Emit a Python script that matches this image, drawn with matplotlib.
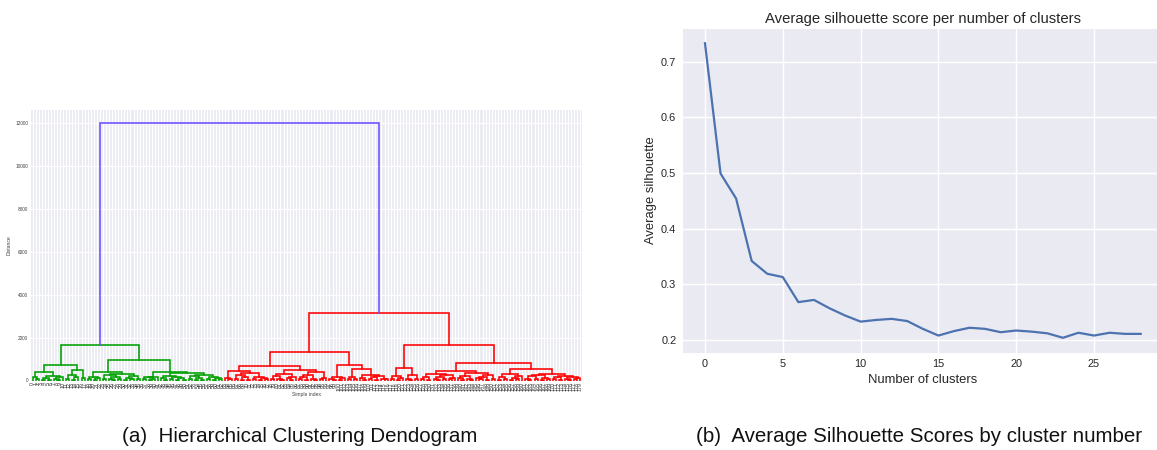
import matplotlib
matplotlib.use("Agg")
import matplotlib.pyplot as plt

plt.rcParams['font.family'] = ['Liberation Sans', 'DejaVu Sans']

# ---------------------------------------------------------------------------
# Dendrogram: merge height between each pair of neighbouring leaves
# (in leaf order). The tree is rebuilt from these by splitting at the maximum.
# ---------------------------------------------------------------------------
green_gaps = [
    150, 60, 390, 45, 120, 30, 210, 80, 25, 140, 700,
    90, 250, 40, 170, 466, 120, 1665,
    70, 180, 35, 110, 388,
    55, 260, 90, 30, 150, 70, 300, 40, 120, 65, 200, 85, 961,
    60, 140, 25, 90, 180, 400,
    110, 35, 230, 70, 150, 40, 95, 20, 340,
    80, 190, 45, 120, 30, 260, 60, 140, 25, 100, 50,
]
top_merge = 12000
red_gaps = [
    120, 50, 434,
    90, 260, 40, 150, 30, 330, 70, 180, 45, 110, 60, 653,
    55, 210, 80, 35, 300, 100, 40, 160, 497,
    70, 140, 30, 250, 90, 45, 380, 60, 120, 1337,
    80, 40, 155, 30, 95, 714,
    60, 180, 90, 513,
    100, 40, 270, 65, 150, 35, 210, 80, 50, 3157,
    75, 230, 40, 120, 570,
    90, 35, 260, 60, 1665,
    60, 180, 40, 320, 85, 30, 140, 55, 250, 70, 110, 434,
    95, 40, 200, 65, 30, 330, 120, 50, 170, 35, 240, 80, 825,
    45, 160, 70, 300, 35, 120, 60, 200, 545,
    80, 30, 190, 55, 250, 40, 130, 70, 311,
    50, 150, 35, 220, 90, 40, 180, 60, 110,
]
leaf_gaps = green_gaps + [top_merge] + red_gaps
n_leaves = len(leaf_gaps) + 1
leaf_labels = [str(i) for i in range(n_leaves)]

cluster_colors = ['#00a000', '#ff0000']
above_color = '#6a4cff'
color_threshold = 0.7 * max(leaf_gaps)

# ---------------------------------------------------------------------------
# Silhouette scores
# ---------------------------------------------------------------------------
n_clusters = list(range(29))
avg_silhouette = [0.733, 0.499, 0.454, 0.342, 0.319, 0.313, 0.268, 0.272,
                  0.257, 0.244, 0.233, 0.236, 0.238, 0.234, 0.220, 0.208,
                  0.216, 0.222, 0.220, 0.214, 0.217, 0.215, 0.212, 0.204,
                  0.213, 0.208, 0.213, 0.211, 0.211]

W, H = 1157, 450
fig = plt.figure(figsize=(W / 100, H / 100), dpi=100)
fig.patch.set_facecolor('white')


def px_axes(left, top, right, bottom):
    return fig.add_axes([left / W, 1 - bottom / H, (right - left) / W, (bottom - top) / H])


# ---------------------------- dendrogram ----------------------------------
links = []
color_iter = iter(cluster_colors * 10)


def gaps_max(lo, hi):
    if lo == hi:
        return 0
    return max(leaf_gaps[lo:hi])


def build(lo, hi, color):
    """Return (x, height) of subtree over leaves lo..hi, recording links."""
    if lo == hi:
        return 10 * lo + 5, 0.0
    k = max(range(lo, hi), key=lambda i: leaf_gaps[i])
    h = leaf_gaps[k]
    if h >= color_threshold:
        node_color = above_color
        cl = None if gaps_max(lo, k) >= color_threshold else next(color_iter)
        lx, lh = build(lo, k, cl)
        cr = None if gaps_max(k + 1, hi) >= color_threshold else next(color_iter)
        rx, rh = build(k + 1, hi, cr)
    else:
        node_color = color if color is not None else next(color_iter)
        lx, lh = build(lo, k, node_color)
        rx, rh = build(k + 1, hi, node_color)
    links.append(([lx, lx, rx, rx], [lh, h, h, rh], node_color))
    return (lx + rx) / 2, h


build(0, n_leaves - 1, None)

ax1 = px_axes(31, 110, 582, 380.5)
ax1.set_facecolor('#EAEAF2')
for xs, ys, c in links:
    ax1.plot(xs, ys, color=c, lw=1.15, solid_joinstyle='miter')
ax1.set_xlim(0, 10 * n_leaves)
ax1.set_ylim(0, 12600)
ax1.set_xticks([10 * i + 5 for i in range(n_leaves)])
ax1.set_xticklabels(leaf_labels, rotation=90, fontsize=3.9, color='#3a3a3a')
ax1.set_yticks(range(0, 12001, 2000))
ax1.set_yticklabels([str(v) for v in range(0, 12001, 2000)], fontsize=3.4, color='#444444')
ax1.tick_params(axis='x', length=0, pad=1.2)
ax1.tick_params(axis='y', length=0, pad=2)
ax1.grid(True, color='white', lw=0.9)
ax1.set_axisbelow(True)
for s in ax1.spines.values():
    s.set_visible(False)
ax1.set_ylabel('Distance', fontsize=3.6, color='#444444', labelpad=3)
ax1.set_xlabel('Simple index', fontsize=3.6, color='#444444', labelpad=0.5)

# ---------------------------- silhouette ----------------------------------
ax2 = px_axes(683.2, 28.5, 1162.5, 352.5)
ax2.set_facecolor('#EAEAF2')
ax2.plot(n_clusters, avg_silhouette, color='#4C72B0', lw=1.6)
ax2.margins(x=0.05, y=0.05)
ax2.set_xticks([0, 5, 10, 15, 20, 25])
ax2.set_yticks([0.2, 0.3, 0.4, 0.5, 0.6, 0.7])
ax2.tick_params(length=0, labelsize=7.9, labelcolor='#262626', pad=5)
ax2.grid(True, color='white', lw=1.0)
ax2.set_axisbelow(True)
for s in ax2.spines.values():
    s.set_visible(False)
ax2.set_title('Average silhouette score per number of clusters', fontsize=10.7, color='#262626', pad=4)
ax2.set_xlabel('Number of clusters', fontsize=9.4, color='#262626', labelpad=3.5)
ax2.set_ylabel('Average silhouette', fontsize=9.4, color='#262626', labelpad=3)

# ---------------------------- captions ------------------------------------
fig.text(300 / W, 1 - 437 / H, '(a)  Hierarchical Clustering Dendogram',
         ha='center', va='center', fontsize=14.8, color='#111111')
fig.text(919 / W, 1 - 437 / H, '(b)  Average Silhouette Scores by cluster number',
         ha='center', va='center', fontsize=14.8, color='#111111')

fig.savefig('out.png', dpi=100, facecolor='white')
